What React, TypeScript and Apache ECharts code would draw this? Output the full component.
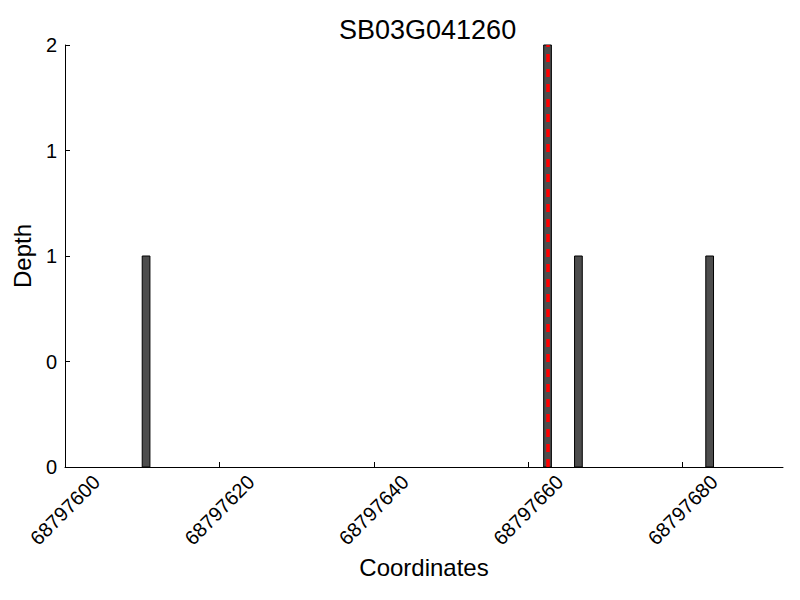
import React, { useEffect, useRef } from "react";
import * as echarts from "echarts";

const titleText = "SB03G041260";
const positions = [68797610, 68797662, 68797666, 68797683];
const depths = [1, 2, 1, 1];
const markerPosition = 68797662.5;
const xMin = 68797600;
const xMax = 68797693;
const yTicks = [0, 0.5, 1, 1.5, 2];

export default function App() {
  const ref = useRef<HTMLDivElement>(null);
  useEffect(() => {
    if (!ref.current) return;
    const chart = echarts.init(ref.current, null, { renderer: "svg" });
    const font = "'Liberation Sans', Arial, sans-serif";
    chart.setOption({
      animation: false,
      backgroundColor: "#fff",
      title: {
        text: titleText,
        left: 334,
        top: 11,
        textStyle: { fontFamily: font, fontSize: 27, fontWeight: "normal", color: "#000" },
      },
      grid: { left: 65, right: 17, top: 45, bottom: 133, outerBoundsMode: "none", containLabel: false },
      xAxis: {
        type: "value",
        min: xMin,
        max: xMax,
        interval: 20,
        name: "Coordinates",
        nameLocation: "middle",
        nameGap: 87,
        nameTextStyle: { fontFamily: font, fontSize: 24, color: "#000" },
        axisLine: { lineStyle: { color: "#000", width: 1 } },
        axisTick: { inside: true, length: 5, lineStyle: { color: "#000" } },
        axisLabel: {
          rotate: 45,
          align: "center",
          verticalAlign: "middle",
          fontFamily: font,
          fontSize: 20,
          color: "#000",
          margin: 43,
          showMaxLabel: false,
          formatter: (v: number) => String(Math.round(v)),
        },
        splitLine: { show: false },
      },
      yAxis: {
        type: "value",
        min: 0,
        max: 2,
        interval: 0.5,
        name: "Depth",
        nameLocation: "middle",
        nameGap: 30,
        nameTextStyle: { fontFamily: font, fontSize: 24, color: "#000" },
        axisLine: { show: true, lineStyle: { color: "#000", width: 1 } },
        axisTick: { show: true, inside: true, length: 5, lineStyle: { color: "#000" } },
        axisLabel: {
          fontFamily: font,
          fontSize: 20,
          color: "#000",
          margin: 8,
          formatter: (v: number) => String(Math.floor(v)),
        },
        splitLine: { show: false },
      },
      series: [
        {
          type: "custom",
          data: positions.map((p, i) => [p, depths[i]]),
          renderItem: (params: any, api: any) => {
            const x = api.value(0);
            const v = api.value(1);
            const p0 = api.coord([x, v]);
            const p1 = api.coord([x + 1, 0]);
            return {
              type: "rect",
              shape: { x: p0[0], y: p0[1], width: p1[0] - p0[0], height: p1[1] - p0[1] },
              style: { fill: "#4d4d4d", stroke: "#000", lineWidth: 1 },
            };
          },
          markLine: {
            silent: true,
            symbol: "none",
            label: { show: false },
            lineStyle: { color: "#ff0000", type: [8, 7], width: 3.5, opacity: 1 },
            data: [{ xAxis: markerPosition }],
          },
          z: 2,
        },
      ],
    });
    return () => chart.dispose();
  }, []);
  return <div ref={ref} style={{ width: 800, height: 600, position: "absolute", left: 0, top: 0 }} />;
}
